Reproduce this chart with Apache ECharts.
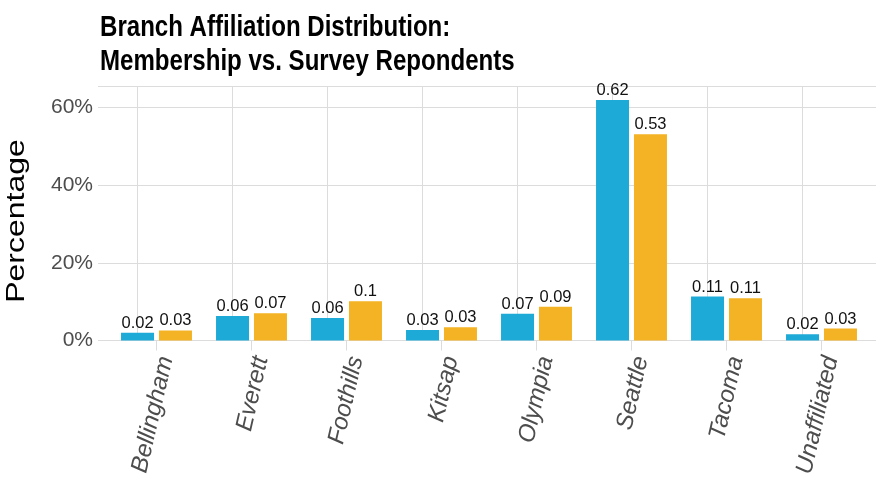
<!DOCTYPE html>
<html>
<head>
<meta charset="utf-8">
<script src="https://cdn.jsdelivr.net/npm/echarts@6/dist/echarts.min.js"></script>
<style>html,body{margin:0;padding:0;background:#fff;}#c{width:883px;height:493px;}</style>
</head>
<body>
<div id="c"></div>
<script>
const categories = ['Bellingham', 'Everett', 'Foothills', 'Kitsap', 'Olympia', 'Seattle', 'Tacoma', 'Unaffiliated'];
const membership = [0.020, 0.063, 0.058, 0.027, 0.069, 0.619, 0.113, 0.016];
const survey = [0.026, 0.070, 0.101, 0.034, 0.087, 0.531, 0.109, 0.031];
const yTicks = [0, 0.2, 0.4, 0.6];
const titleText = 'Branch Affiliation Distribution:\nMembership vs. Survey Repondents';
const yTitle = 'Percentage';

const regular = '"Liberation Sans", Arial, sans-serif';
const gridColor = '#dcdcdc';
const gridTop = 86, gridBottom = 152.5, yMax = 0.655;

const labelFmt = p => String(Number(p.value.toFixed(2)));
const barLabel = {
  show: true, position: 'top', distance: 1,
  fontFamily: regular, fontSize: 16.5, color: '#111', formatter: labelFmt
};

const chart = echarts.init(document.getElementById('c'), null, {renderer: 'canvas'});
chart.setOption({
  animation: false,
  backgroundColor: '#fff',
  graphic: [{
    type: 'text', x: 100, y: 11, scaleX: 0.83, silent: true,
    style: {
      text: titleText, fontFamily: regular, fontWeight: 'bold', fontSize: 29,
      lineHeight: 34, fill: '#000', textAlign: 'left', textVerticalAlign: 'top'
    }
  }, {
    type: 'text', x: 17, y: 221, rotation: Math.PI / 2, scaleY: 0.8, silent: true,
    style: {
      text: yTitle, fontFamily: regular, fontSize: 32, fill: '#000',
      textAlign: 'center', textVerticalAlign: 'middle'
    }
  }],
  grid: [
    {left: 98, right: 7, top: gridTop, bottom: gridBottom},
    {left: 109, right: 14, top: gridTop, bottom: gridBottom}
  ],
  xAxis: [
    {type: 'value', gridIndex: 0, min: 0, max: 1, show: false},
    {
      type: 'category', gridIndex: 1, data: categories,
      axisLine: {show: false},
      axisTick: {show: true, alignWithLabel: true, length: 10, lineStyle: {color: gridColor}},
      axisLabel: {
        rotate: 77, margin: 14, fontFamily: regular, fontStyle: 'italic',
        fontSize: 24, lineHeight: 20, verticalAlign: 'top', color: '#4d4d4d'
      },
      splitLine: {show: false}
    }
  ],
  yAxis: [
    {
      type: 'value', gridIndex: 0, min: 0, max: yMax, interval: 0.2,
      axisLine: {show: false}, axisTick: {show: false},
      axisLabel: {
        margin: 5, fontFamily: regular, fontSize: 21, color: '#4d4d4d',
        formatter: v => yTicks.some(t => Math.abs(t - v) < 1e-9) ? Math.round(v * 100) + '%' : ''
      },
      splitLine: {show: true, lineStyle: {color: gridColor, width: 1}}
    },
    {type: 'value', gridIndex: 1, min: 0, max: yMax, show: false}
  ],
  series: [
    {
      name: 'Membership', type: 'bar', xAxisIndex: 1, yAxisIndex: 1,
      data: membership, barWidth: 33, barGap: '15%',
      itemStyle: {color: '#1eaad6'}, label: barLabel, z: 3,
      markLine: {
        silent: true, symbol: ['none', 'none'], z: 1,
        label: {show: false},
        lineStyle: {color: gridColor, width: 1, type: 'solid'},
        data: categories.map(c => ({xAxis: c}))
      }
    },
    {
      name: 'Survey', type: 'bar', xAxisIndex: 1, yAxisIndex: 1,
      data: survey, barWidth: 33,
      itemStyle: {color: '#f3b324'}, label: barLabel, z: 3
    }
  ]
});
</script>
</body>
</html>
